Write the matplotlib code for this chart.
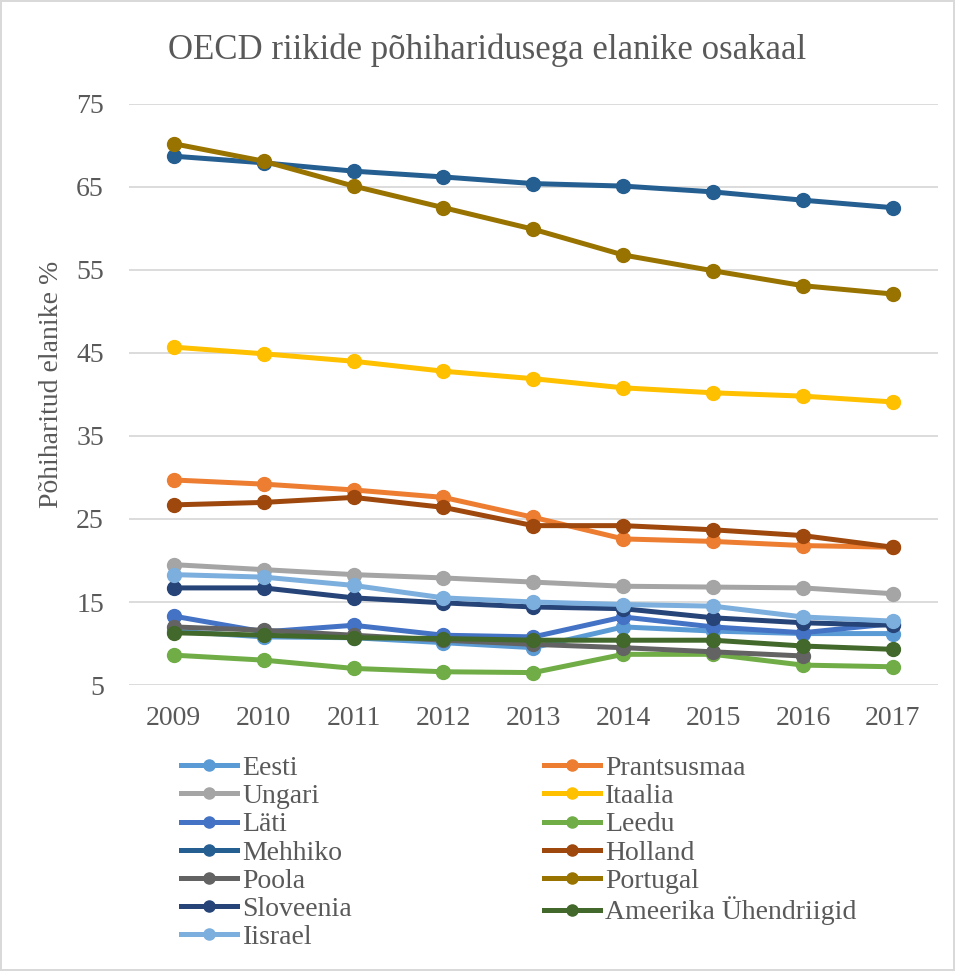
import numpy as np
import matplotlib.pyplot as plt

years = ["2009", "2010", "2011", "2012", "2013", "2014", "2015", "2016", "2017"]

eesti = [11.5, 10.8, 10.7, 10.1, 9.5, 12.0, 11.5, 11.2, 11.2]
prantsusmaa = [29.7, 29.2, 28.5, 27.6, 25.2, 22.6, 22.3, 21.8, 21.6]
ungari = [19.5, 18.9, 18.3, 17.9, 17.4, 16.9, 16.8, 16.7, 16.0]
itaalia = [45.7, 44.9, 44.0, 42.8, 41.9, 40.8, 40.2, 39.8, 39.1]
lati = [13.3, 11.4, 12.2, 11.0, 10.8, 13.2, 12.0, 11.3, 12.4]
leedu = [8.6, 8.0, 7.0, 6.6, 6.5, 8.7, 8.7, 7.4, 7.2]
mehhiko = [68.7, 67.9, 66.9, 66.2, 65.4, 65.1, 64.4, 63.4, 62.5]
holland = [26.7, 27.0, 27.6, 26.4, 24.2, 24.2, 23.7, 23.0, 21.6]
poola = [12.0, 11.6, 11.0, 10.4, 9.9, 9.5, 9.0, 8.5, np.nan]
portugal = [70.2, 68.1, 65.1, 62.5, 59.9, 56.8, 54.9, 53.1, 52.1]
sloveenia = [16.7, 16.7, 15.5, 14.9, 14.4, 14.2, 13.1, 12.5, 12.2]
usa = [11.3, 11.0, 10.7, 10.6, 10.4, 10.4, 10.4, 9.7, 9.3]
iisrael = [18.3, 18.0, 17.0, 15.5, 15.0, 14.7, 14.5, 13.2, 12.7]

series = [
    ("Eesti", eesti, "#5B9BD5"),
    ("Prantsusmaa", prantsusmaa, "#ED7D31"),
    ("Ungari", ungari, "#A5A5A5"),
    ("Itaalia", itaalia, "#FFC000"),
    ("Läti", lati, "#4472C4"),
    ("Leedu", leedu, "#70AD47"),
    ("Mehhiko", mehhiko, "#255E91"),
    ("Holland", holland, "#9E480E"),
    ("Poola", poola, "#636363"),
    ("Portugal", portugal, "#997300"),
    ("Sloveenia", sloveenia, "#264478"),
    ("Ameerika Ühendriigid", usa, "#43682B"),
    ("Iisrael", iisrael, "#7CAFDD"),
]

plt.rcParams['font.family'] = ['Liberation Serif', 'DejaVu Serif']
text_col = "#595959"

fig = plt.figure(figsize=(9.55, 9.71), dpi=100)
fig.patch.set_edgecolor("#d9d9d9")
fig.patch.set_linewidth(1.5)
ax = fig.add_axes([0.135, 0.2945, 0.847, 0.5985])

x = np.arange(len(years))
handles = {}
for name, vals, col in series:
    h, = ax.plot(x, vals, color=col, lw=3.6, marker="o", ms=10, label=name)
    handles[name] = h

ax.set_xlim(-0.5, len(years) - 0.5)
ax.set_ylim(5, 75)
ax.set_yticks(range(5, 76, 10))
ax.set_xticks(x)
ax.set_xticklabels(years)
ax.yaxis.grid(True, color="#d9d9d9", lw=1.3)
ax.set_axisbelow(True)
for s in ax.spines.values():
    s.set_visible(False)
ax.tick_params(length=0, labelsize=20, labelcolor=text_col)
ax.tick_params(axis="y", pad=18)
ax.tick_params(axis="x", pad=15)

ax.set_ylabel("Põhiharitud elanike %", fontsize=20, color=text_col)
ax.yaxis.set_label_coords(-0.08, 0.517)
fig.text(0.51, 0.948, "OECD riikide põhiharidusega elanike osakaal",
         ha="center", va="center", fontsize=25, color=text_col)

# legend goes row by row in the original, so reorder for column filling
order = ["Eesti", "Ungari", "Läti", "Mehhiko", "Poola", "Sloveenia", "Iisrael",
         "Prantsusmaa", "Itaalia", "Leedu", "Holland", "Portugal", "Ameerika Ühendriigid"]
leg = fig.legend([handles[n] for n in order], order, ncol=2,
                 loc="upper left", bbox_to_anchor=(0.19, 0.222),
                 frameon=False, fontsize=20, handlelength=2.0,
                 handletextpad=0.2, columnspacing=6.9, labelspacing=0.1,
                 borderpad=0, borderaxespad=0)
for t in leg.get_texts():
    t.set_color(text_col)
for lh in leg.legend_handles:
    lh.set_markersize(8)

fig.savefig("out.png", dpi=100)
